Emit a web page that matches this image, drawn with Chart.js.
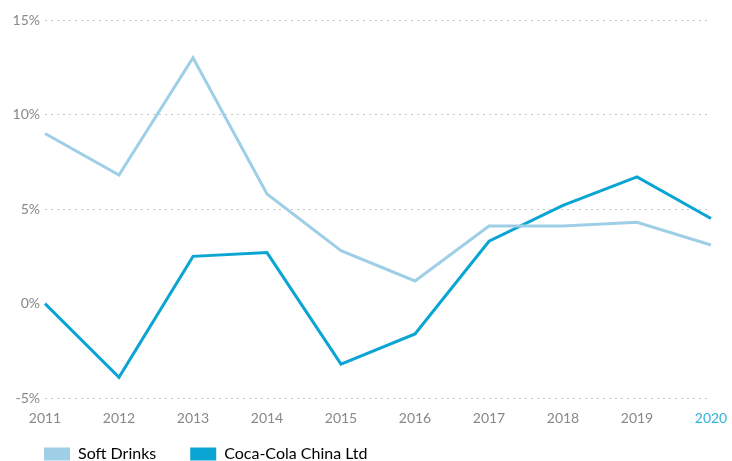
<!DOCTYPE html>
<html>
<head>
<meta charset="utf-8">
<script src="https://cdn.jsdelivr.net/npm/chart.js@4"></script>
<style>
    html, body { margin: 0; padding: 0; background: #fff; }
    #wrap { width: 732px; height: 461px; position: relative; }
</style>
</head>
<body>
<div id="wrap"><canvas id="chart"></canvas></div>
<script>
/* ===============================
   DATA
   =============================== */
const years = ["2011", "2012", "2013", "2014", "2015", "2016", "2017", "2018", "2019", "2020"];
const softDrinks = [9.0, 6.8, 13.0, 5.8, 2.8, 1.2, 4.1, 4.1, 4.3, 3.1];
const cocaColaChina = [0.0, -3.9, 2.5, 2.7, -3.2, -1.6, 3.3, 5.2, 6.7, 4.5];

const LIGHT = "#9fcfe7";
const DARK = "#0aa5d2";

Chart.defaults.font.family = "Lato, 'Open Sans', sans-serif";
Chart.defaults.font.size = 14;

// the wide item gap makes chart.js push the legend too low, pin it under the axis
const legendPin = {
    id: "legendPin",
    afterLayout(chart) {
        const lg = chart.legend;
        const h = lg.bottom - lg.top;
        lg.top = 412;
        lg.bottom = 412 + h;
    }
};

new Chart(document.getElementById("chart"), {
    type: "line",
    data: {
        labels: years,
        datasets: [
            {
                label: "Soft Drinks",
                data: softDrinks,
                borderColor: LIGHT,
                backgroundColor: LIGHT,
                borderWidth: 3,
                pointRadius: 0,
                tension: 0
            },
            {
                label: "Coca-Cola China Ltd",
                data: cocaColaChina,
                borderColor: DARK,
                backgroundColor: DARK,
                borderWidth: 3,
                pointRadius: 0,
                tension: 0
            }
        ]
    },
    plugins: [legendPin],
    options: {
        responsive: true,
        maintainAspectRatio: false,
        animation: false,
        layout: { padding: { top: 20, right: 21, left: 10, bottom: -30 } },
        plugins: {
            tooltip: { enabled: false },
            legend: {
                position: "bottom",
                align: "start",
                labels: {
                    boxWidth: 26,
                    boxHeight: 13,
                    padding: 34,
                    color: "#555",
                    font: { size: 16 },
                    generateLabels: chart => chart.data.datasets.map((ds, i) => ({
                        text: ds.label,
                        fillStyle: ds.borderColor,
                        strokeStyle: ds.borderColor,
                        lineWidth: 0,
                        datasetIndex: i
                    }))
                }
            }
        },
        scales: {
            x: {
                offset: false,
                grid: { display: false },
                border: { display: false },
                ticks: {
                    color: ctx => ctx.index === years.length - 1 ? "#2fb3d6" : "#888",
                    maxRotation: 0,
                    padding: 4
                }
            },
            y: {
                min: -5,
                max: 15,
                afterFit: s => { s.width = 35; },
                grid: {
                    color: ctx => ctx.tick.value === 0 ? "rgba(0,0,0,0)" : "#c8c8c8",
                    lineWidth: 1,
                    drawTicks: false
                },
                border: { display: false, dash: [2, 4] },
                ticks: {
                    stepSize: 5,
                    color: "#888",
                    padding: 5,
                    callback: v => v + "%"
                }
            }
        }
    }
});
</script>
</body>
</html>
